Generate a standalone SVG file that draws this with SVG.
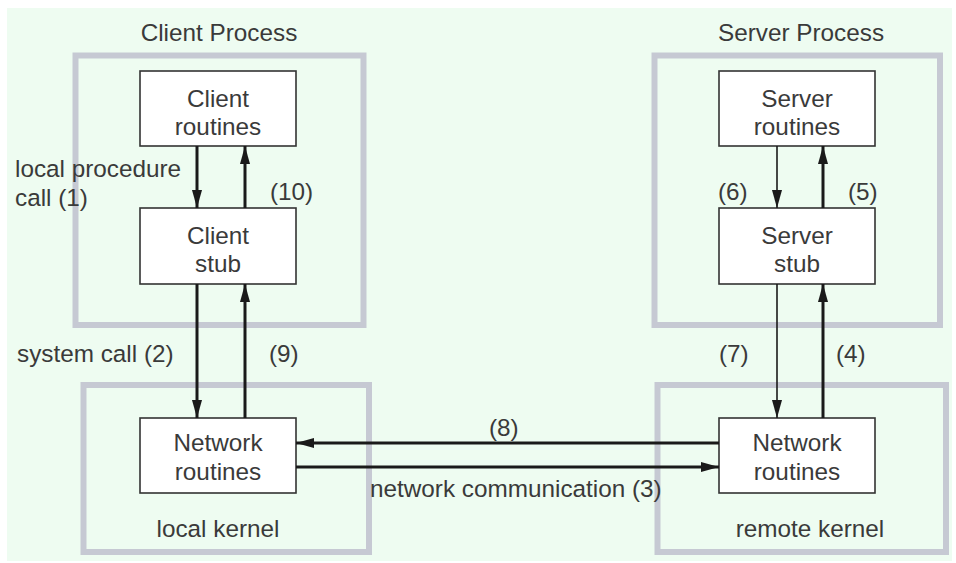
<svg xmlns="http://www.w3.org/2000/svg" width="956" height="563" viewBox="0 0 956 563">
<defs>
<marker id="ah" viewBox="0 0 18 10" refX="18" refY="5" markerWidth="18" markerHeight="10" markerUnits="userSpaceOnUse" orient="auto">
<path d="M0,0 L18,5 L0,10 Z" fill="#1a1a1a"/>
</marker>
</defs>
<style>
.bg{fill:#eefcf1}
.grp{fill:none;stroke:#c6c9d3;stroke-width:6}
.box{fill:#ffffff;stroke:#333333;stroke-width:1.6}
text{font-family:"Liberation Sans",Arial,sans-serif;font-size:24.3px;fill:#3a3a3a}
.c{text-anchor:middle}
.thick{stroke:#1a1a1a;stroke-width:3;fill:none}
.thin{stroke:#1a1a1a;stroke-width:1.6;fill:none}
</style>
<rect x="0" y="0" width="956" height="563" fill="#ffffff"/>
<rect class="bg" x="7" y="8" width="945" height="553"/>

<g id="client-process">
<rect class="grp" x="75.5" y="55.5" width="288" height="269.5"/>
<text class="c" x="219" y="41">Client Process</text>
</g>
<g id="server-process">
<rect class="grp" x="654.5" y="55.5" width="285.5" height="269.5"/>
<text class="c" x="801" y="41">Server Process</text>
</g>
<g id="local-kernel">
<rect class="grp" x="83.5" y="385" width="285.5" height="167"/>
<text class="c" x="218" y="537">local kernel</text>
</g>
<g id="remote-kernel">
<rect class="grp" x="657.5" y="385" width="288.5" height="167"/>
<text class="c" x="810" y="537">remote kernel</text>
</g>

<g id="client-routines">
<rect class="box" x="140" y="71" width="156" height="75"/>
<text class="c" x="218" y="107">Client</text>
<text class="c" x="218" y="135">routines</text>
</g>
<g id="client-stub">
<rect class="box" x="140" y="208" width="156" height="76"/>
<text class="c" x="218" y="244">Client</text>
<text class="c" x="218" y="272">stub</text>
</g>
<g id="client-network">
<rect class="box" x="140" y="418" width="156" height="75"/>
<text class="c" x="218" y="451">Network</text>
<text class="c" x="218" y="480">routines</text>
</g>
<g id="server-routines">
<rect class="box" x="719" y="71" width="156" height="75"/>
<text class="c" x="797" y="107">Server</text>
<text class="c" x="797" y="135">routines</text>
</g>
<g id="server-stub">
<rect class="box" x="719" y="208" width="156" height="76"/>
<text class="c" x="797" y="244">Server</text>
<text class="c" x="797" y="272">stub</text>
</g>
<g id="server-network">
<rect class="box" x="719" y="418" width="156" height="75"/>
<text class="c" x="797" y="451">Network</text>
<text class="c" x="797" y="480">routines</text>
</g>

<g id="connectors">
<line class="thick" x1="197" y1="146" x2="197" y2="208" marker-end="url(#ah)"/>
<line class="thick" x1="245" y1="208" x2="245" y2="146" marker-end="url(#ah)"/>
<line class="thick" x1="197" y1="284" x2="197" y2="418" marker-end="url(#ah)"/>
<line class="thick" x1="245" y1="418" x2="245" y2="284" marker-end="url(#ah)"/>
<line class="thick" x1="719" y1="443" x2="296" y2="443" marker-end="url(#ah)"/>
<line class="thick" x1="296" y1="467" x2="719" y2="467" marker-end="url(#ah)"/>
<line class="thick" x1="823" y1="418" x2="823" y2="284" marker-end="url(#ah)"/>
<line class="thin" x1="777" y1="284" x2="777" y2="418" marker-end="url(#ah)"/>
<line class="thick" x1="823" y1="208" x2="823" y2="146" marker-end="url(#ah)"/>
<line class="thin" x1="777" y1="146" x2="777" y2="208" marker-end="url(#ah)"/>
<text x="15" y="177">local procedure</text>
<text x="15" y="206">call (1)</text>
<text x="270" y="200">(10)</text>
<text x="17" y="362">system call (2)</text>
<text x="269" y="362">(9)</text>
<text x="718" y="200">(6)</text>
<text x="848" y="200">(5)</text>
<text x="719" y="362">(7)</text>
<text x="836" y="362">(4)</text>
<text x="489" y="436">(8)</text>
<text x="370" y="497">network communication (3)</text>
</g>
</svg>
